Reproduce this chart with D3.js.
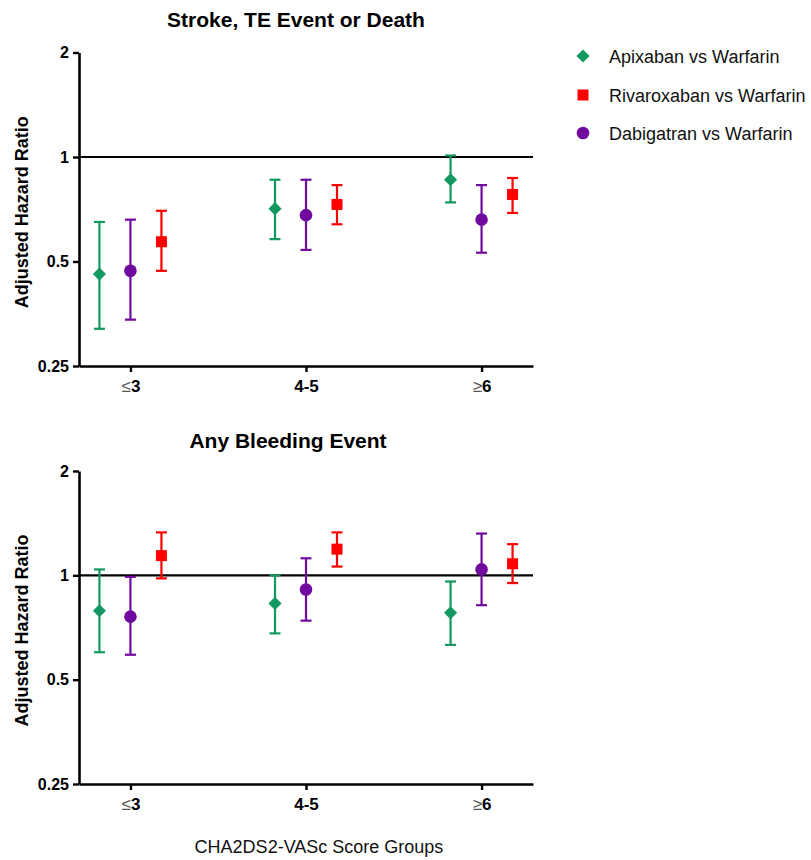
<!DOCTYPE html>
<html>
<head>
<meta charset="utf-8">
<script src="https://cdn.jsdelivr.net/npm/d3@7"></script>
<style>
  body { margin: 0; background: #fff; }
  svg { font-family: "Liberation Sans", Arial, sans-serif; }
</style>
</head>
<body>
<div id="chart"></div>
<script>

/* DATA */

const groups = ["≤3", "4-5", "≥6"];
const seriesNames = ["Apixaban vs Warfarin", "Rivaroxaban vs Warfarin", "Dabigatran vs Warfarin"];
const yTicks = [0.25, 0.5, 1, 2];

// Stroke, TE Event or Death
const apixabanStroke = [0.46, 0.71, 0.86];
const apixabanStrokeLo = [0.32, 0.58, 0.74];
const apixabanStrokeHi = [0.65, 0.86, 1.01];
const rivaroxabanStroke = [0.57, 0.73, 0.78];
const rivaroxabanStrokeLo = [0.47, 0.64, 0.69];
const rivaroxabanStrokeHi = [0.70, 0.83, 0.87];
const dabigatranStroke = [0.47, 0.68, 0.66];
const dabigatranStrokeLo = [0.34, 0.54, 0.53];
const dabigatranStrokeHi = [0.66, 0.86, 0.83];

// Any Bleeding Event
const apixabanBleed = [0.79, 0.83, 0.78];
const apixabanBleedLo = [0.60, 0.68, 0.63];
const apixabanBleedHi = [1.04, 1.00, 0.96];
const rivaroxabanBleed = [1.14, 1.19, 1.08];
const rivaroxabanBleedLo = [0.98, 1.06, 0.95];
const rivaroxabanBleedHi = [1.33, 1.33, 1.23];
const dabigatranBleed = [0.76, 0.91, 1.04];
const dabigatranBleedLo = [0.59, 0.74, 0.82];
const dabigatranBleedHi = [0.99, 1.12, 1.32];

/* CONSTANTS */

const width = 811;
const height = 860;
const plotLeft = 79;
const plotRight = 533;

const colors = ["#13985f", "#ff0000", "#700a9f"];
const symbols = [d3.symbolSquare, d3.symbolSquare, d3.symbolCircle];
const symbolSizes = [86, 121, 125];
const rotations = [45, 0, 0];
const offsets = [-31, 31, 0];

const svg = d3.select("#chart")
  .append("svg")
  .attr("width", width)
  .attr("height", height);

const xScale = d3.scalePoint()
  .domain(groups)
  .range([plotLeft, plotRight])
  .padding(0.293);

// PANEL ===========================================================
function drawPanel(cfg) {

  const yScale = d3.scaleLog()
    .base(2)
    .domain([0.25, 2])
    .range([cfg.bottom, cfg.top]);

  const g = svg.append("g");

  // title
  g.append("text")
    .attr("x", cfg.titleX)
    .attr("y", cfg.titleY)
    .attr("text-anchor", "middle")
    .style("font-weight", "bold")
    .style("font-size", "21px")
    .text(cfg.title);

  // y title
  g.append("text")
    .attr("transform", "rotate(-90)")
    .attr("x", -(cfg.top + cfg.bottom) / 2 - 3)
    .attr("y", 28)
    .attr("text-anchor", "middle")
    .style("font-weight", "bold")
    .style("font-size", "18px")
    .text("Adjusted Hazard Ratio");

  // reference line at 1
  g.append("line")
    .attr("x1", plotLeft)
    .attr("x2", plotRight)
    .attr("y1", yScale(1))
    .attr("y2", yScale(1))
    .attr("stroke", "#000")
    .attr("stroke-width", 2.2);

  // axes
  const yAxis = g.append("g")
    .attr("transform", `translate(${plotLeft}, 0)`)
    .call(d3.axisLeft(yScale)
      .tickValues(yTicks)
      .tickFormat(d => d)
      .tickSize(6)
      .tickSizeOuter(0)
      .tickPadding(4));

  const xAxis = g.append("g")
    .attr("transform", `translate(0, ${cfg.bottom})`)
    .call(d3.axisBottom(xScale)
      .tickSize(6)
      .tickSizeOuter(0)
      .tickPadding(8));

  [yAxis, xAxis].forEach(ax => {
    ax.select(".domain").attr("stroke", "#000").attr("stroke-width", 2.6);
    ax.selectAll(".tick line").attr("stroke", "#000").attr("stroke-width", 2.4);
    ax.selectAll(".tick text")
      .attr("fill", "#000")
      .style("font-family", "'Liberation Sans', Arial, sans-serif")
      .style("font-weight", "bold")
      .style("font-size", "16px");
  });
  xAxis.selectAll(".tick text").style("font-size", "17px");

  // lighter comparison sign on x labels
  xAxis.selectAll(".tick text")
    .text(null)
    .each(function(d) {
      const t = d3.select(this);
      if (d[0] === "≤" || d[0] === "≥") {
        t.append("tspan").style("font-weight", "normal").attr("fill", "#555").text(d[0]);
        t.append("tspan").text(d.slice(1));
      } else {
        t.append("tspan").text(d);
      }
    });

  // error bars and points
  cfg.series.forEach((s, si) => {
    const rows = groups.map((grp, i) => ({
      grp: grp, v: s.v[i], lo: s.lo[i], hi: s.hi[i]
    }));
    const cx = d => xScale(d.grp) + offsets[si];

    const bars = g.append("g")
      .attr("stroke", colors[si])
      .attr("stroke-width", 2.2)
      .attr("fill", "none");

    bars.selectAll(".stem")
      .data(rows)
      .join("line")
      .attr("x1", cx)
      .attr("x2", cx)
      .attr("y1", d => yScale(d.lo))
      .attr("y2", d => yScale(d.hi));

    bars.selectAll(".cap")
      .data(rows.flatMap(d => [{ grp: d.grp, y: d.lo }, { grp: d.grp, y: d.hi }]))
      .join("line")
      .attr("x1", d => cx(d) - 5.5)
      .attr("x2", d => cx(d) + 5.5)
      .attr("y1", d => yScale(d.y))
      .attr("y2", d => yScale(d.y));

    g.append("g")
      .selectAll("path")
      .data(rows)
      .join("path")
      .attr("d", d3.symbol().type(symbols[si]).size(symbolSizes[si]))
      .attr("transform", d => `translate(${cx(d)}, ${yScale(d.v)}) rotate(${rotations[si]})`)
      .attr("fill", colors[si]);
  });
}

drawPanel({
  title: "Stroke, TE Event or Death",
  titleX: 296,
  titleY: 27,
  top: 52.5,
  bottom: 366,
  series: [
    { v: apixabanStroke, lo: apixabanStrokeLo, hi: apixabanStrokeHi },
    { v: rivaroxabanStroke, lo: rivaroxabanStrokeLo, hi: rivaroxabanStrokeHi },
    { v: dabigatranStroke, lo: dabigatranStrokeLo, hi: dabigatranStrokeHi }
  ]
});

drawPanel({
  title: "Any Bleeding Event",
  titleX: 288,
  titleY: 448,
  top: 471,
  bottom: 784,
  series: [
    { v: apixabanBleed, lo: apixabanBleedLo, hi: apixabanBleedHi },
    { v: rivaroxabanBleed, lo: rivaroxabanBleedLo, hi: rivaroxabanBleedHi },
    { v: dabigatranBleed, lo: dabigatranBleedLo, hi: dabigatranBleedHi }
  ]
});

// x title
svg.append("text")
  .attr("x", 319)
  .attr("y", 853)
  .attr("text-anchor", "middle")
  .style("font-size", "18px")
  .attr("fill", "#111")
  .text("CHA2DS2-VASc Score Groups");

// LEGEND ==========================================================
const legendY = [56, 95, 133];

svg.selectAll(".legend-mark")
  .data(seriesNames)
  .join("path")
  .attr("class", "legend-mark")
  .attr("d", (_, i) => d3.symbol().type(symbols[i]).size(symbolSizes[i])())
  .attr("transform", (_, i) => `translate(583, ${legendY[i]}) rotate(${rotations[i]})`)
  .attr("fill", (_, i) => colors[i]);

svg.selectAll(".legend-label")
  .data(seriesNames)
  .join("text")
  .attr("class", "legend-label")
  .attr("x", 609)
  .attr("y", (_, i) => legendY[i] + 6.5)
  .style("font-size", "18px")
  .attr("fill", "#111")
  .text(d => d);

</script>
</body>
</html>
